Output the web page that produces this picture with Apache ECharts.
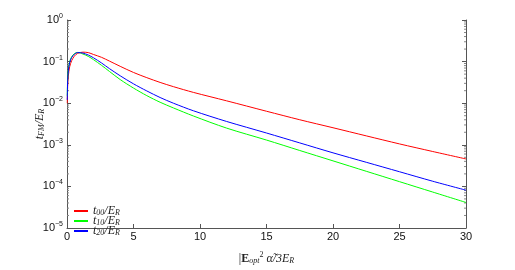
<!DOCTYPE html>
<html><head><meta charset="utf-8">
<script src="https://cdn.jsdelivr.net/npm/echarts@6/dist/echarts.min.js"></script>
<style>html,body{margin:0;padding:0;background:#fff}#c{width:515px;height:270px}</style>
</head><body><div id="c"></div>
<script>
// x values (|E_opt|^2 alpha / 3E_R)
const xs = [0.02, 0.05, 0.1, 0.2, 0.35, 0.55, 0.8, 1.2, 1.6, 2, 2.6, 3.2, 4, 5, 6, 7, 8, 9.5, 12, 15, 17.5, 20, 22.5, 25, 27.5, 30];
// t00/E_R
const t00 = [0.01, 0.025, 0.045, 0.075, 0.105, 0.135, 0.158, 0.1687, 0.1644, 0.148, 0.1265, 0.1026, 0.077, 0.0548, 0.0411, 0.0316, 0.025, 0.0182, 0.0114, 0.00641, 0.0040, 0.00257, 0.00164, 0.00105, 0.00069, 0.000457];
// t10/E_R
const t10 = [0.015, 0.04, 0.065, 0.1, 0.13, 0.155, 0.166, 0.152, 0.1334, 0.111, 0.0811, 0.0577, 0.037, 0.0231, 0.0152, 0.01054, 0.0077, 0.00493, 0.00252, 0.0013, 0.00073, 0.000411, 0.000231, 0.00013, 0.0000731, 0.0000411];
// t20/E_R
const t20 = [0.012, 0.035, 0.06, 0.095, 0.125, 0.15, 0.165, 0.160, 0.144, 0.123, 0.0925, 0.0675, 0.0456, 0.0292, 0.0197, 0.0137, 0.0100, 0.00658, 0.00364, 0.00192, 0.00111, 0.000641, 0.00038, 0.000225, 0.000133, 0.0000811];
// axis ticks
const xTicks = [0, 5, 10, 15, 20, 25, 30];
const yDecades = [1e-5, 1e-4, 1e-3, 1e-2, 1e-1];
const minorMultipliers = [2, 3, 4, 5, 6, 7, 8, 9];

const pairs = ys => xs.map((x, i) => [x, ys[i]]);
const minorVals = [];
yDecades.forEach(d => minorMultipliers.forEach(m => minorVals.push([0, d * m])));

const axisColor = '#555';
const chart = echarts.init(document.getElementById('c'));
const yLabel = {
  fontFamily: 'Liberation Sans', fontSize: 11, color: '#111', margin: 4,
  formatter: v => '{b|10}{s|' + String(Math.round(Math.log10(v))).replace('-', '\u2212') + '}',
  rich: { b: { fontSize: 11, fontFamily: 'Liberation Sans', color: '#111' },
          s: { fontSize: 7, fontFamily: 'Liberation Sans', color: '#111', verticalAlign: 'bottom', padding: [0, 0, 8, 0] } }
};
const serifI = { fontFamily: 'Liberation Serif', fontStyle: 'italic', fontSize: 12, color: '#222' };
const subS = { fontFamily: 'Liberation Serif', fontStyle: 'italic', fontSize: 8, color: '#222', padding: [4, 0, 0, 0] };
chart.setOption({
  animation: false,
  grid: { left: 67, right: 49, top: 20, bottom: 30 },
  legend: {
    orient: 'vertical', left: 68, top: 200, itemWidth: 14, itemHeight: 2, itemGap: -2,
    data: ['t00', 't10', 't20'],
    textStyle: { fontSize: 11, color: '#222', rich: { i: serifI, sub: subS } },
    formatter: n => '{i|t}{sub|' + n.slice(1) + '}{i|/E}{sub|R}'
  },
  xAxis: {
    type: 'value', min: 0, max: 30, interval: 5,
    axisLine: { lineStyle: { color: axisColor } },
    axisTick: { inside: true, length: 4, lineStyle: { color: axisColor } },
    splitLine: { show: false },
    axisLabel: { fontFamily: 'Liberation Sans', fontSize: 11, color: '#111', margin: 3 },
    name: '{p||}{bb|E}{sub|opt}{sup|2}{i| α̃/3E}{sub|R}',
    nameLocation: 'middle', nameGap: 23, nameMoveOverlap: false,
    nameTextStyle: { rich: {
      p: { fontFamily: 'Liberation Serif', fontSize: 12, color: '#222' },
      bb: { fontFamily: 'Liberation Serif', fontWeight: 'bold', fontSize: 12, color: '#222' },
      i: serifI,
      sub: subS,
      sup: { fontFamily: 'Liberation Serif', fontSize: 8, color: '#222', padding: [0, 0, 8, 0] }
    } }
  },
  yAxis: [{
    type: 'log', logBase: 10, min: 1e-5, max: 1,
    axisLine: { show: true, lineStyle: { color: axisColor } },
    axisTick: { inside: true, length: 4, lineStyle: { color: axisColor } },
    splitLine: { show: false },
    axisLabel: yLabel,
    name: '{i|t}{sub|FM}{i|/E}{sub|R}',
    nameLocation: 'middle', nameGap: 21, nameRotate: 90, nameMoveOverlap: false,
    nameTextStyle: { rich: { i: serifI, sub: subS } }
  }, {
    type: 'log', logBase: 10, min: 1e-5, max: 1, position: 'right',
    axisLine: { show: true, lineStyle: { color: axisColor } },
    axisTick: { inside: true, length: 4, lineStyle: { color: axisColor } },
    splitLine: { show: false },
    axisLabel: { show: false }
  }],
  series: [
    { name: 't00', type: 'line', data: pairs(t00), smooth: 0.3, symbol: 'none', lineStyle: { color: '#ff0000', width: 1 }, itemStyle: { color: '#ff0000' } },
    { name: 't10', type: 'line', data: pairs(t10), smooth: 0.3, symbol: 'none', lineStyle: { color: '#00ff00', width: 1 }, itemStyle: { color: '#00ff00' } },
    { name: 't20', type: 'line', data: pairs(t20), smooth: 0.3, symbol: 'none', lineStyle: { color: '#0000ff', width: 1 }, itemStyle: { color: '#0000ff' } },
    { name: 'minor', type: 'custom', data: minorVals, silent: true, clip: false,
      renderItem: (params, api) => {
        const v = api.value(1);
        const l = api.coord([0, v]);
        const r = api.coord([30, v]);
        return { type: 'group', children: [
          { type: 'line', shape: { x1: l[0], y1: l[1], x2: l[0] + 2, y2: l[1] }, style: { stroke: '#888', lineWidth: 1 } },
          { type: 'line', shape: { x1: r[0] - 2, y1: r[1], x2: r[0], y2: r[1] }, style: { stroke: '#888', lineWidth: 1 } }
        ] };
      } }
  ]
});
</script></body></html>
